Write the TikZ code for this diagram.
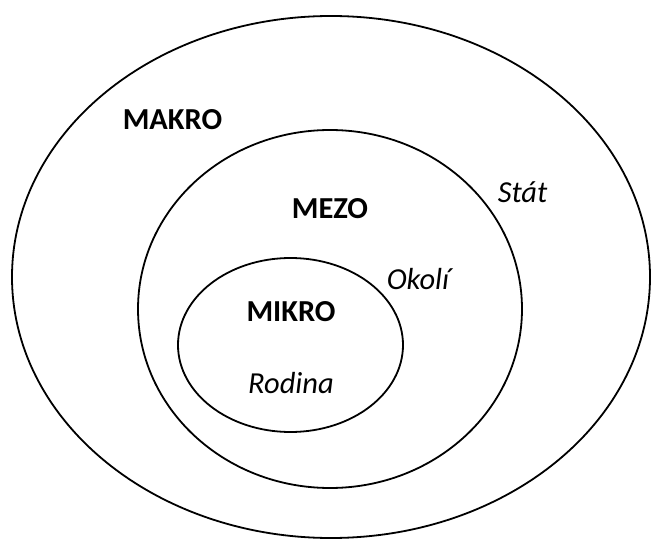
\documentclass[tikz,border=0pt]{standalone}
\usepackage{fontspec}
\setmainfont{Carlito}
\usetikzlibrary{shapes.geometric}
\begin{document}
\begin{tikzpicture}[x=1pt,y=-1pt,
  ring/.style={draw, ellipse, line width=1.8pt, inner sep=0pt},
  lvl/.style={anchor=base, font=\fontsize{30.5}{36}\selectfont\bfseries},
  place/.style={anchor=base, font=\fontsize{30.5}{36}\selectfont\itshape}]
\useasboundingbox (0,0) rectangle (651,540);
\node[ring, minimum width=638pt, minimum height=522pt] (makro) at (331,277){};
\node[ring, minimum width=384pt, minimum height=358pt] (mezo) at (330,309){};
\node[ring, minimum width=225pt, minimum height=174pt] (mikro) at (290.5,345){};
\node[lvl] (tmakro) at (172.5,130){MAKRO};
\node[lvl] (tmezo) at (330,219){MEZO};
\node[lvl] (tmikro) at (291,321){MIKRO};
\node[place] (stat) at (522.5,203){Stát};
\node[place] (okoli) at (418,290){Okolí};
\node[place] (rodina) at (291,393){Rodina};
\end{tikzpicture}
\end{document}
